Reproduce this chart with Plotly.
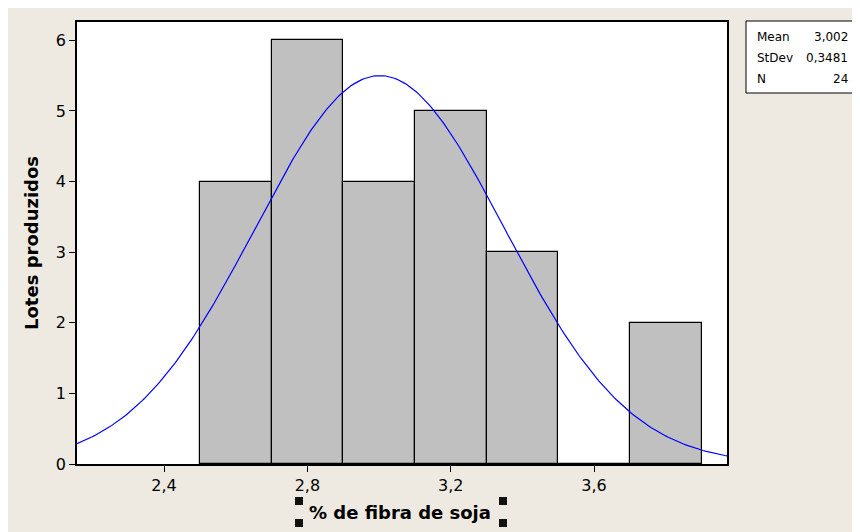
import numpy as np
import plotly.graph_objects as go

# Data
bin_edges = [2.5, 2.7, 2.9, 3.1, 3.3, 3.5, 3.7, 3.9]
counts = [4, 6, 4, 5, 3, 0, 2]
MEAN = 3.002
STDEV = 0.3481
N = 24
x_ticks = [2.4, 2.8, 3.2, 3.6]
x_tick_labels = ["2,4", "2,8", "3,2", "3,6"]
y_ticks = [0, 1, 2, 3, 4, 5, 6]
stat_labels = ["Mean", "StDev", "N"]
stat_values = ["3,002", "0,3481", "24"]

OFF = 8  # page body margin
W, H = 860 - OFF, 532 - OFF
L, R, T, B = 77 - OFF, 727 - OFF, 22 - OFF, 464 - OFF
XMIN, XMAX = 2.157, 3.971

centers = [(bin_edges[i] + bin_edges[i + 1]) / 2 for i in range(len(counts))]
widths = [bin_edges[i + 1] - bin_edges[i] for i in range(len(counts))]

binw = bin_edges[1] - bin_edges[0]
xc = np.linspace(XMIN, XMAX, 300)
yc = N * binw * np.exp(-0.5 * ((xc - MEAN) / STDEV) ** 2) / (STDEV * np.sqrt(2 * np.pi))

fig = go.Figure()
fig.add_trace(go.Bar(x=centers, y=counts, width=widths,
                     marker=dict(color="#C0C0C0", line=dict(color="#000000", width=1.2)),
                     hoverinfo="skip"))
fig.add_trace(go.Scatter(x=xc, y=yc, mode="lines", line=dict(color="#0000FF", width=1.2),
                         hoverinfo="skip"))

font = "DejaVu Sans, Verdana, sans-serif"

def px(xp):
    return (xp - OFF - L) / (R - L)

def py(yp):
    return (B - (yp - OFF)) / (B - T)

shapes = []
# plot background white
shapes.append(dict(type="rect", xref="paper", yref="paper", layer="below",
                   x0=0, x1=1, y0=0, y1=1, fillcolor="#FFFFFF", line=dict(width=0)))
# legend box
shapes.append(dict(type="rect", xref="paper", yref="paper",
                   x0=px(746), x1=px(875), y0=py(93), y1=py(21),
                   fillcolor="#FFFFFF", line=dict(color="#000000", width=1)))
# selection handles around x title
for (hx, hy) in [(295, 497), (295, 519), (499, 497), (499, 519)]:
    shapes.append(dict(type="rect", xref="paper", yref="paper",
                       x0=px(hx), x1=px(hx + 8), y0=py(hy + 8), y1=py(hy),
                       fillcolor="#111111", line=dict(width=0)))

annotations = []
for i, (lab, val) in enumerate(zip(stat_labels, stat_values)):
    yy = 36.5 + i * 21.2
    annotations.append(dict(xref="paper", yref="paper", x=px(755), y=py(yy),
                            text=lab, showarrow=False, xanchor="left", yanchor="middle",
                            font=dict(family=font, size=12, color="#000000")))
    annotations.append(dict(xref="paper", yref="paper", x=px(850), y=py(yy),
                            text=val, showarrow=False, xanchor="right", yanchor="middle",
                            font=dict(family=font, size=12, color="#000000")))

# axis titles
annotations.append(dict(xref="paper", yref="paper", x=px(400), y=py(512),
                        text="<b>% de fibra de soja</b>", showarrow=False,
                        xanchor="center", yanchor="middle",
                        font=dict(family=font, size=18, color="#000000")))
annotations.append(dict(xref="paper", yref="paper", x=px(31), y=py(243),
                        text="<b>Lotes produzidos</b>", showarrow=False, textangle=-90,
                        xanchor="center", yanchor="middle",
                        font=dict(family=font, size=18, color="#000000")))

fig.update_layout(
    width=W, height=H,
    margin=dict(l=L, r=W - R, t=T, b=H - B, pad=0),
    paper_bgcolor="#EEEAE1", plot_bgcolor="rgba(0,0,0,0)",
    showlegend=False, bargap=0,
    shapes=shapes, annotations=annotations,
    font=dict(family=font, color="#000000"),
)
fig.update_xaxes(range=[XMIN, XMAX], tickvals=x_ticks, ticktext=x_tick_labels,
                 ticks="outside", ticklen=6, tickwidth=1.2, tickcolor="#000000",
                 showgrid=False, zeroline=False, showline=True, linecolor="#000000",
                 linewidth=1.5, mirror=True,
                 tickfont=dict(family=font, size=16, color="#000000"))
fig.update_yaxes(range=[0, 6.26], tickvals=y_ticks,
                 ticks="outside", ticklen=6, tickwidth=1.2, tickcolor="#000000",
                 showgrid=False, zeroline=False, showline=True, linecolor="#000000",
                 linewidth=1.5, mirror=True,
                 tickfont=dict(family=font, size=16, color="#000000"))

fig.write_html("out.html")
